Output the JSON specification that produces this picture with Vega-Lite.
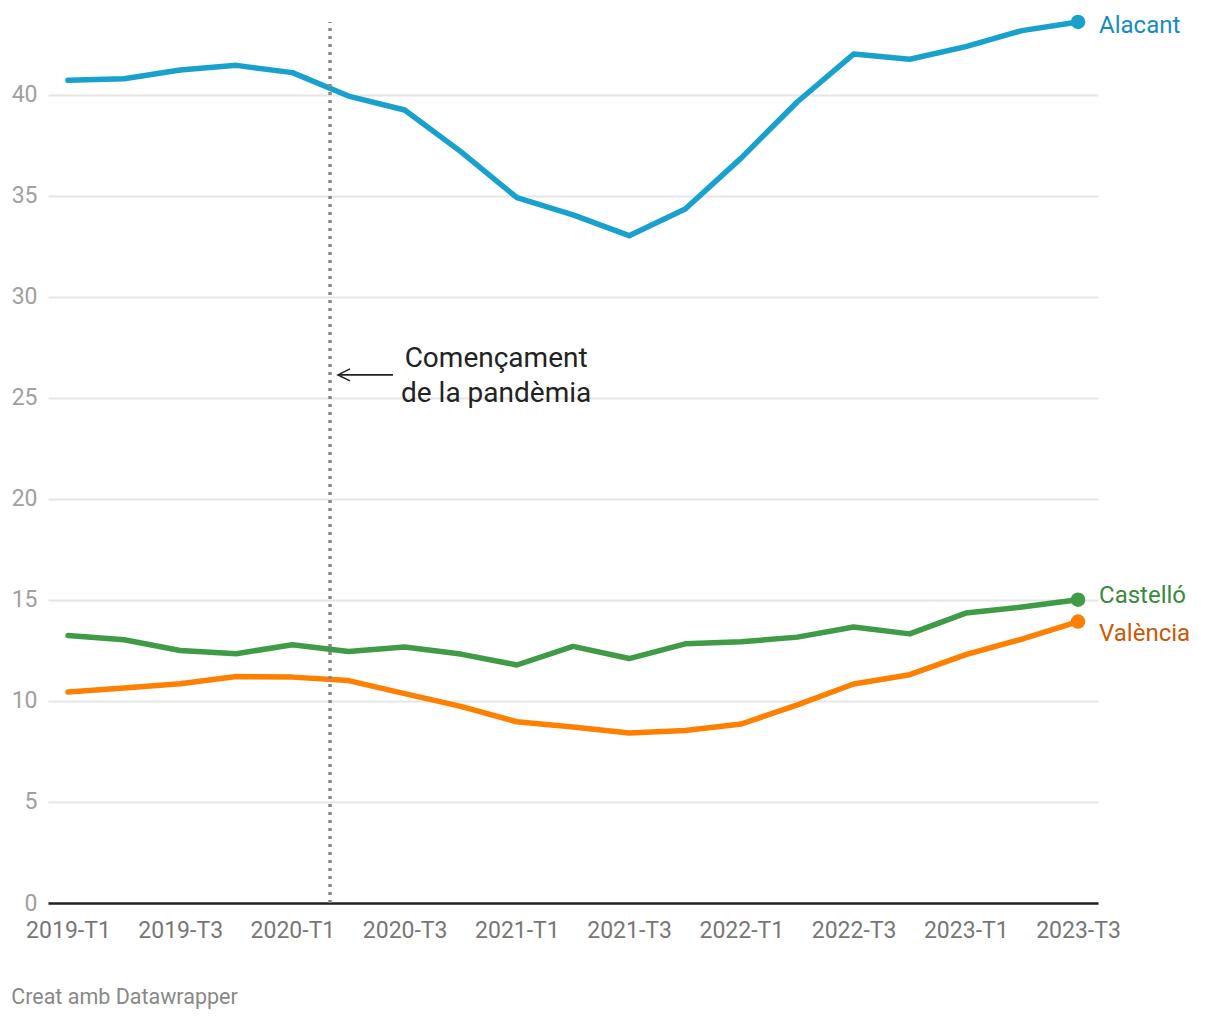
{
  "$schema": "https://vega.github.io/schema/vega-lite/v6.json",
  "width": 1050,
  "height": 893,
  "autosize": {"type": "none"},
  "padding": {"left": 48, "top": 10, "right": 122, "bottom": 117},
  "background": "white",
  "config": {
    "view": {"stroke": null},
    "font": "Roboto",
    "text": {"font": "Roboto"}
  },
  "title": {
    "text": "Creat amb Datawrapper",
    "orient": "bottom",
    "anchor": "start",
    "frame": "bounds",
    "fontSize": 21.5,
    "fontWeight": "normal",
    "font": "Roboto",
    "color": "#888888",
    "offset": 45
  },
  "datasets": {
    "series": [
      {"i": 0, "q": "2019-T1", "region": "Alacant", "v": 40.72},
      {"i": 1, "q": "2019-T2", "region": "Alacant", "v": 40.80},
      {"i": 2, "q": "2019-T3", "region": "Alacant", "v": 41.23},
      {"i": 3, "q": "2019-T4", "region": "Alacant", "v": 41.46},
      {"i": 4, "q": "2020-T1", "region": "Alacant", "v": 41.10},
      {"i": 5, "q": "2020-T2", "region": "Alacant", "v": 39.94},
      {"i": 6, "q": "2020-T3", "region": "Alacant", "v": 39.25},
      {"i": 7, "q": "2020-T4", "region": "Alacant", "v": 37.19},
      {"i": 8, "q": "2021-T1", "region": "Alacant", "v": 34.91},
      {"i": 9, "q": "2021-T2", "region": "Alacant", "v": 34.06},
      {"i": 10, "q": "2021-T3", "region": "Alacant", "v": 33.03},
      {"i": 11, "q": "2021-T4", "region": "Alacant", "v": 34.35},
      {"i": 12, "q": "2022-T1", "region": "Alacant", "v": 36.88},
      {"i": 13, "q": "2022-T2", "region": "Alacant", "v": 39.66},
      {"i": 14, "q": "2022-T3", "region": "Alacant", "v": 42.02},
      {"i": 15, "q": "2022-T4", "region": "Alacant", "v": 41.76},
      {"i": 16, "q": "2023-T1", "region": "Alacant", "v": 42.39},
      {"i": 17, "q": "2023-T2", "region": "Alacant", "v": 43.18},
      {"i": 18, "q": "2023-T3", "region": "Alacant", "v": 43.61},
      {"i": 0, "q": "2019-T1", "region": "Castelló", "v": 13.24},
      {"i": 1, "q": "2019-T2", "region": "Castelló", "v": 13.03},
      {"i": 2, "q": "2019-T3", "region": "Castelló", "v": 12.50},
      {"i": 3, "q": "2019-T4", "region": "Castelló", "v": 12.34},
      {"i": 4, "q": "2020-T1", "region": "Castelló", "v": 12.78},
      {"i": 5, "q": "2020-T2", "region": "Castelló", "v": 12.45},
      {"i": 6, "q": "2020-T3", "region": "Castelló", "v": 12.67},
      {"i": 7, "q": "2020-T4", "region": "Castelló", "v": 12.32},
      {"i": 8, "q": "2021-T1", "region": "Castelló", "v": 11.78},
      {"i": 9, "q": "2021-T2", "region": "Castelló", "v": 12.70},
      {"i": 10, "q": "2021-T3", "region": "Castelló", "v": 12.10},
      {"i": 11, "q": "2021-T4", "region": "Castelló", "v": 12.83},
      {"i": 12, "q": "2022-T1", "region": "Castelló", "v": 12.93},
      {"i": 13, "q": "2022-T2", "region": "Castelló", "v": 13.16},
      {"i": 14, "q": "2022-T3", "region": "Castelló", "v": 13.66},
      {"i": 15, "q": "2022-T4", "region": "Castelló", "v": 13.32},
      {"i": 16, "q": "2023-T1", "region": "Castelló", "v": 14.35},
      {"i": 17, "q": "2023-T2", "region": "Castelló", "v": 14.65},
      {"i": 18, "q": "2023-T3", "region": "Castelló", "v": 15.01},
      {"i": 0, "q": "2019-T1", "region": "València", "v": 10.44},
      {"i": 1, "q": "2019-T2", "region": "València", "v": 10.64},
      {"i": 2, "q": "2019-T3", "region": "València", "v": 10.85},
      {"i": 3, "q": "2019-T4", "region": "València", "v": 11.21},
      {"i": 4, "q": "2020-T1", "region": "València", "v": 11.18},
      {"i": 5, "q": "2020-T2", "region": "València", "v": 11.01},
      {"i": 6, "q": "2020-T3", "region": "València", "v": 10.36},
      {"i": 7, "q": "2020-T4", "region": "València", "v": 9.73},
      {"i": 8, "q": "2021-T1", "region": "València", "v": 8.97},
      {"i": 9, "q": "2021-T2", "region": "València", "v": 8.71},
      {"i": 10, "q": "2021-T3", "region": "València", "v": 8.41},
      {"i": 11, "q": "2021-T4", "region": "València", "v": 8.54},
      {"i": 12, "q": "2022-T1", "region": "València", "v": 8.86},
      {"i": 13, "q": "2022-T2", "region": "València", "v": 9.81},
      {"i": 14, "q": "2022-T3", "region": "València", "v": 10.84},
      {"i": 15, "q": "2022-T4", "region": "València", "v": 11.30},
      {"i": 16, "q": "2023-T1", "region": "València", "v": 12.29},
      {"i": 17, "q": "2023-T2", "region": "València", "v": 13.06},
      {"i": 18, "q": "2023-T3", "region": "València", "v": 13.93}
    ]
  },
  "encoding": {
    "x": {
      "field": "i",
      "type": "quantitative",
      "scale": {"domain": [-0.356, 18.356], "nice": false, "zero": false},
      "axis": {
        "title": null,
        "values": [0, 2, 4, 6, 8, 10, 12, 14, 16, 18],
        "labelExpr": "(2019 + floor(datum.value / 4)) + '-T' + (datum.value % 4 + 1)",
        "grid": false,
        "ticks": false,
        "tickSize": 0,
        "domain": true,
        "domainColor": "#222222",
        "domainWidth": 2.5,
        "labelFont": "Roboto",
        "labelFontSize": 23,
        "labelColor": "#777777",
        "labelPadding": 16,
        "labelFlush": false,
        "labelOverlap": false
      }
    },
    "y": {
      "field": "v",
      "type": "quantitative",
      "scale": {"domain": [0, 44.2], "nice": false, "zero": true},
      "axis": {
        "title": null,
        "values": [0, 5, 10, 15, 20, 25, 30, 35, 40],
        "grid": true,
        "gridColor": "#e5e5e5",
        "gridWidth": 2,
        "ticks": false,
        "tickSize": 0,
        "domain": false,
        "labelFont": "Roboto",
        "labelFontSize": 23,
        "labelColor": "#a0a0a0",
        "labelPadding": 11,
        "labelAlign": "right",
        "labelBaseline": "middle"
      }
    }
  },
  "layer": [
    {
      "data": {"name": "series"},
      "mark": {"type": "line", "strokeWidth": 5.5, "strokeJoin": "round", "strokeCap": "round"},
      "encoding": {
        "color": {
          "field": "region",
          "type": "nominal",
          "scale": {"domain": ["Alacant", "Castelló", "València"], "range": ["#18a1cd", "#3f9b45", "#ff8000"]},
          "legend": null
        }
      }
    },
    {
      "data": {"name": "series"},
      "transform": [{"filter": "datum.i == 18"}],
      "mark": {"type": "point", "filled": true, "opacity": 1, "size": 210, "strokeWidth": 0},
      "encoding": {
        "color": {"field": "region", "type": "nominal", "legend": null}
      }
    },
    {
      "data": {"name": "series"},
      "transform": [{"filter": "datum.i == 18 && datum.region == 'Alacant'"}],
      "mark": {"type": "text", "align": "left", "baseline": "middle", "dx": 21, "dy": 4, "fontSize": 24, "font": "Roboto", "color": "#168cbe"},
      "encoding": {"text": {"field": "region"}}
    },
    {
      "data": {"name": "series"},
      "transform": [{"filter": "datum.i == 18 && datum.region == 'Castelló'"}],
      "mark": {"type": "text", "align": "left", "baseline": "middle", "dx": 21, "dy": -4, "fontSize": 24, "font": "Roboto", "color": "#3a8a3e"},
      "encoding": {"text": {"field": "region"}}
    },
    {
      "data": {"name": "series"},
      "transform": [{"filter": "datum.i == 18 && datum.region == 'València'"}],
      "mark": {"type": "text", "align": "left", "baseline": "middle", "dx": 21, "dy": 12, "fontSize": 24, "font": "Roboto", "color": "#c85a0a"},
      "encoding": {"text": {"field": "region"}}
    },
    {
      "data": {"values": [{"i": 4.67, "v": 0, "v2": 43.6}]},
      "mark": {"type": "rule", "color": "#888888", "strokeWidth": 3.5, "strokeDash": [3, 5]},
      "encoding": {"y2": {"field": "v2"}}
    },
    {
      "data": {"values": [{"i": 7.63, "v": 26.54, "label": ["Començament", "de la pandèmia"]}]},
      "mark": {"type": "text", "align": "center", "baseline": "alphabetic", "fontSize": 28, "lineHeight": 35, "font": "Roboto", "color": "#222222"},
      "encoding": {"text": {"field": "label"}}
    },
    {
      "data": {"values": [{"i": 4.812, "i2": 5.792, "v": 26.14}]},
      "mark": {"type": "rule", "color": "#222222", "strokeWidth": 1.6},
      "encoding": {"x2": {"field": "i2"}}
    },
    {
      "data": {"values": [{"i": 4.812, "v": 26.14}]},
      "mark": {"type": "point", "shape": "M1,-0.5L0,0L1,0.5", "filled": false, "size": 576, "strokeWidth": 1.6, "color": "#222222", "opacity": 1},
      "encoding": {}
    }
  ]
}
